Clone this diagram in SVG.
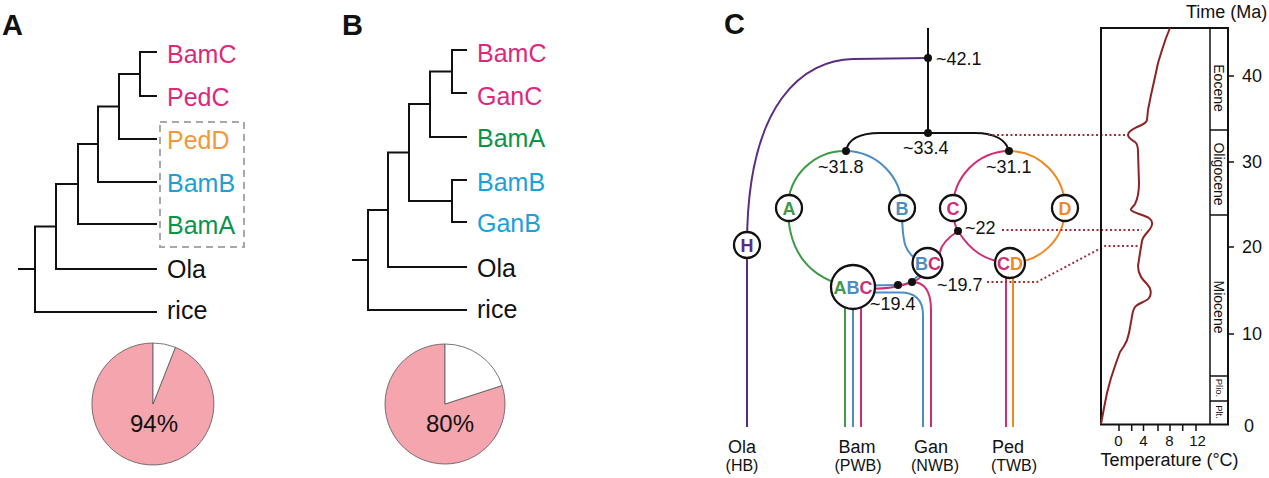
<svg xmlns="http://www.w3.org/2000/svg" width="1269" height="478" viewBox="0 0 1269 478">
<style>
text{font-family:"Liberation Sans",Arial,sans-serif;}
.pl{font-size:29px;font-weight:bold;fill:#111;}
.lf{font-size:25px;}
.br{fill:none;stroke:#111;stroke-width:2;}
.pk{fill:#DB2A7B;} .or{fill:#F3993A;} .cy{fill:#1CA0D9;} .gr{fill:#0B9447;} .bk{fill:#111;}
.pie{stroke:#555;stroke-width:0.8;}
.pct{font-size:24px;fill:#111;text-anchor:middle;}
.ln{fill:none;stroke-width:2;}
.cg{stroke:#3D9A47;} .cb{stroke:#4C8DC6;} .cp{stroke:#D12D74;} .co{stroke:#EE8A22;} .cu{stroke:#5B2D80;} .ck{stroke:#111;}
.nc{fill:#fff;stroke:#111;stroke-width:2.3;}
.nt{font-size:18px;font-weight:bold;text-anchor:middle;}
.tg{fill:#3D9A47;} .tb{fill:#4C8DC6;} .tp{fill:#D12D74;} .to{fill:#EE8A22;} .tu{fill:#5B2D80;}
.age{font-size:18px;fill:#111;}
.dot{fill:#111;}
.sp{font-size:18px;fill:#111;text-anchor:middle;}
.sb{font-size:16px;fill:#111;text-anchor:middle;}
.dt{fill:none;stroke:#A0303A;stroke-width:2;stroke-dasharray:2,2.5;}
.ax{fill:none;stroke:#111;stroke-width:2;}
.ep{font-size:14px;fill:#111;text-anchor:middle;}
.eps{font-size:9.5px;fill:#111;text-anchor:middle;}
.tk{font-size:18px;fill:#111;}
.xt{font-size:15px;fill:#111;text-anchor:middle;}
</style>

<!-- Panel labels -->
<text class="pl" x="2" y="35">A</text>
<text class="pl" x="342" y="35">B</text>
<text class="pl" x="724" y="34">C</text>

<!-- Panel A tree connectors -->
<g id="treeA-connectors">
<path class="br" d="M140,52 H157 M140,96 H157 M140,51 V97"/>
<path class="br" d="M119,74 H140 M119,139 H157 M119,73 V140"/>
<path class="br" d="M98,106.5 H119 M98,182 H157 M98,105.5 V183"/>
<path class="br" d="M78,144 H98 M78,224 H157 M78,143 V225"/>
<path class="br" d="M56,184 H78 M56,269 H157 M56,183 V270"/>
<path class="br" d="M35,226.5 H56 M35,312 H157 M35,225.5 V313 M18,269 H35"/>
<rect x="160" y="122" width="84" height="125" fill="none" stroke="#A8A8A8" stroke-width="2" stroke-dasharray="7,5"/>
</g>
<g id="treeA-BamC"><text class="lf pk" x="167" y="63">BamC</text></g>
<g id="treeA-PedC"><text class="lf pk" x="167" y="106">PedC</text></g>
<g id="treeA-PedD"><text class="lf or" x="167" y="148.5">PedD</text></g>
<g id="treeA-BamB"><text class="lf cy" x="167" y="191.5">BamB</text></g>
<g id="treeA-BamA"><text class="lf gr" x="167" y="234">BamA</text></g>
<g id="treeA-Ola"><text class="lf bk" x="167" y="278">Ola</text></g>
<g id="treeA-rice"><text class="lf bk" x="167" y="319">rice</text></g>

<!-- Panel B tree connectors -->
<g id="treeB-connectors">
<path class="br" d="M452,50 H467 M452,93 H467 M452,49 V94"/>
<path class="br" d="M430,71.5 H452 M430,137 H467 M430,70.5 V138"/>
<path class="br" d="M452,180 H467 M452,222 H467 M452,179 V223"/>
<path class="br" d="M409,104 H430 M409,201 H452 M409,103 V202"/>
<path class="br" d="M388,152.5 H409 M388,267 H467 M388,151.5 V268"/>
<path class="br" d="M368,210 H388 M368,310 H467 M368,209 V311 M352,260 H368"/>
</g>
<g id="treeB-BamC"><text class="lf pk" x="477" y="62">BamC</text></g>
<g id="treeB-GanC"><text class="lf pk" x="477" y="105">GanC</text></g>
<g id="treeB-BamA"><text class="lf gr" x="477" y="147">BamA</text></g>
<g id="treeB-BamB"><text class="lf cy" x="477" y="190.5">BamB</text></g>
<g id="treeB-GanB"><text class="lf cy" x="477" y="232">GanB</text></g>
<g id="treeB-Ola"><text class="lf bk" x="477" y="277">Ola</text></g>
<g id="treeB-rice"><text class="lf bk" x="477" y="318">rice</text></g>

<!-- Pies -->
<g id="pieA">
<path class="pie" fill="#F4A5AE" d="M153,404 L175.4,347.3 A61,61 0 1 1 153,343 Z"/>
<path class="pie" fill="#fff" d="M153,404 L153,343 A61,61 0 0 1 175.4,347.3 Z"/>
<text class="pct" x="154" y="432">94%</text>
</g>
<g id="pieB">
<path class="pie" fill="#F4A5AE" d="M445,404 L502.1,385.5 A60,60 0 1 1 445,344 Z"/>
<path class="pie" fill="#fff" d="M445,404 L445,344 A60,60 0 0 1 502.1,385.5 Z"/>
<text class="pct" x="450" y="432">80%</text>
</g>

<!-- Panel C connectors -->
<g id="C-connectors">
<path class="ln ck" d="M928,28 V133"/>
<path class="ln ck" d="M846,151 C848,140 858,133 880,133 L975,133 C995,133 1007,140 1009,152"/>
<path class="ln cu" d="M928,58 L853,59 C805,60 747,100 747,245 L747,427"/>
<path class="ln cg" d="M846,151 A57,57 0 0 0 788,208 C788,250 808,280 853,287"/>
<path class="ln cb" d="M846,151 A57,57 0 0 1 902,208 C902,240 903,258 927,263"/>
<path class="ln cp" d="M1009,151 A57,57 0 0 0 953,208 C953,218 955,226 958,231 C970,250 985,262 1010,263"/>
<path class="ln cp" d="M958,231 C946,239 941,246 940,252 C938,258 933,262 927,263"/>
<path class="ln co" d="M1009,151 A56,57 0 0 1 1065,208 C1065,240 1040,262 1010,263"/>
<path class="ln cb" d="M927,263 C920,276 910,285 898,285 L865,285.5"/>
<path class="ln cp" d="M927,263 C926,272 920,280 912,282 C904,285 895,289 865,289"/>
<path class="ln cb" d="M865,292.5 L900,292.5 C915,292.5 923,300 923,315 L923,427"/>
<path class="ln cp" d="M912,282 C925,282 931,292 931,310 L931,427"/>
<path class="ln cg" d="M845,300 V427"/>
<path class="ln cb" d="M853,300 V427"/>
<path class="ln cp" d="M861,300 V427"/>
<path class="ln cp" d="M1006,270 V427"/>
<path class="ln co" d="M1013,270 V427"/>
<path class="dt" d="M988,135 L1125,135"/>
<path class="dt" d="M1002,230 L1142,230"/>
<path class="dt" d="M987,282 L1037,282 L1105,246 L1140,246"/>
</g>

<!-- Dots -->
<g id="C-dots">
<circle class="dot" cx="928" cy="58" r="4"/>
<circle class="dot" cx="928" cy="133" r="4"/>
<circle class="dot" cx="846" cy="151" r="4"/>
<circle class="dot" cx="1009" cy="151" r="4"/>
<circle class="dot" cx="958" cy="231" r="4"/>
<circle class="dot" cx="898" cy="285" r="4"/>
<circle class="dot" cx="912" cy="282" r="4"/>
</g>

<!-- Ages -->
<g id="C-ages">
<text class="age" x="936" y="65">~42.1</text>
<text class="age" x="903" y="154">~33.4</text>
<text class="age" x="818" y="173">~31.8</text>
<text class="age" x="986" y="173">~31.1</text>
<text class="age" x="965" y="234">~22</text>
<text class="age" x="937" y="291">~19.7</text>
<text class="age" x="870" y="310">~19.4</text>
</g>

<!-- Nodes -->
<g id="node-H"><circle class="nc" cx="747" cy="245" r="13"/><text class="nt tu" x="747" y="251.5">H</text></g>
<g id="node-A"><circle class="nc" cx="789" cy="208" r="13"/><text class="nt tg" x="789" y="214.5">A</text></g>
<g id="node-B"><circle class="nc" cx="902" cy="208" r="13"/><text class="nt tb" x="902" y="214.5">B</text></g>
<g id="node-C"><circle class="nc" cx="953" cy="208" r="13"/><text class="nt tp" x="953" y="214.5">C</text></g>
<g id="node-D"><circle class="nc" cx="1065" cy="208" r="13"/><text class="nt to" x="1065" y="214.5">D</text></g>
<g id="node-BC"><circle class="nc" cx="927.5" cy="263" r="15"/><text class="nt" x="928" y="269.5"><tspan class="tb">B</tspan><tspan class="tp">C</tspan></text></g>
<g id="node-CD"><circle class="nc" cx="1010" cy="263" r="15"/><text class="nt" x="1010" y="269.5"><tspan class="tp">C</tspan><tspan class="to">D</tspan></text></g>
<g id="node-ABC"><circle class="nc" cx="853" cy="287" r="22"/><text class="nt" x="853" y="293.5"><tspan class="tg">A</tspan><tspan class="tb">B</tspan><tspan class="tp">C</tspan></text></g>

<!-- Bottom labels -->
<g id="label-Ola"><text class="sp" x="742" y="453">Ola</text><text class="sb" x="742" y="471">(HB)</text></g>
<g id="label-Bam"><text class="sp" x="857" y="453">Bam</text><text class="sb" x="858" y="471">(PWB)</text></g>
<g id="label-Gan"><text class="sp" x="931" y="453">Gan</text><text class="sb" x="935" y="471">(NWB)</text></g>
<g id="label-Ped"><text class="sp" x="1008" y="453">Ped</text><text class="sb" x="1014" y="471">(TWB)</text></g>

<!-- Temperature chart -->
<g id="chart">
<text class="tk" x="1186" y="18">Time (Ma)</text>
<path class="ax" d="M1101,28 H1228 V424.5 H1101 Z"/>
<path fill="none" stroke="#111" stroke-width="1.5" d="M1210,28 V424.5 M1210,130 H1228 M1210,215 H1228 M1210,376 H1228 M1210,401 H1228"/>
<path fill="none" stroke="#111" stroke-width="1.5" d="M1228,76 H1234 M1228,162 H1234 M1228,247 H1234 M1228,334 H1234"/>
<text class="ep" transform="translate(1219,88) rotate(90)" y="5">Eocene</text>
<text class="ep" transform="translate(1219,174) rotate(90)" y="5">Oligocene</text>
<text class="ep" transform="translate(1219,307) rotate(90)" y="5">Miocene</text>
<text class="eps" transform="translate(1219,388) rotate(90)" y="3.5">Plio.</text>
<text class="eps" transform="translate(1219,412) rotate(90)" y="3.5">Plt.</text>
<text class="tk" x="1242" y="82">40</text>
<text class="tk" x="1242" y="168">30</text>
<text class="tk" x="1242" y="253">20</text>
<text class="tk" x="1242" y="340">10</text>
<text class="tk" x="1244" y="432">0</text>
<path fill="none" stroke="#111" stroke-width="1.5" d="M1119,425 V431 M1131.7,425 V431 M1143.5,425 V431 M1158,425 V431 M1170,425 V431 M1182.7,425 V431 M1196,425 V431"/>
<text class="xt" x="1118.5" y="446">0</text>
<text class="xt" x="1143.5" y="446">4</text>
<text class="xt" x="1169.5" y="446">8</text>
<text class="xt" x="1197.5" y="446">12</text>
<text class="sp" x="1169.5" y="466">Temperature (°C)</text>
<path fill="none" stroke="#8E2323" stroke-width="2" stroke-linejoin="round" d="M1170,28 L1166,38 L1162,50 L1158,63 L1155,77 L1151,95 L1148,110 L1147,120 C1146,124 1141,125 1137,127 C1133,129 1128,131 1128,135 C1128,138 1132,140 1135,142 C1138,144 1138,148 1138,152 L1139,183 C1139,195 1137,200 1135,204 C1133,207 1130,209 1131,210 C1133,213 1144,215 1149,218 C1153,221 1153,225 1150,229 C1147,233 1143,236 1142,241 L1140,253 L1138,266 C1138,275 1143,280 1147,284 C1151,288 1152,294 1149,298 C1146,302 1138,303 1135,307 C1132,311 1132,318 1131,322 L1129,333 C1128,338 1126,343 1124,346 L1120,352 L1116,363 L1111,378 L1107,393 L1104,408 L1101,424"/>
</g>
</svg>
